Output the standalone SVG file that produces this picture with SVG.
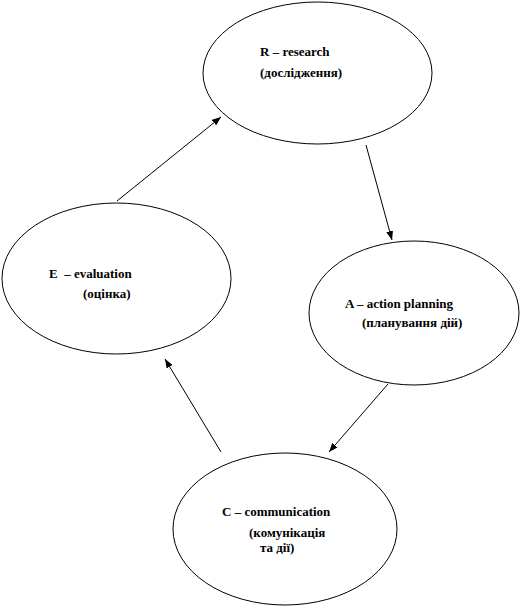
<svg xmlns="http://www.w3.org/2000/svg" width="520" height="616" viewBox="0 0 520 616">
<style>
.n{fill:#fff;stroke:#000;stroke-width:1}
.t{font-family:"Liberation Serif","Times New Roman",serif;font-weight:bold;font-size:13px;fill:#000}
.c{stroke:#000;stroke-width:1;fill:none;marker-end:url(#ah)}
</style>
<defs>
<marker id="ah" markerWidth="9" markerHeight="7" refX="9" refY="3.5" orient="auto" markerUnits="userSpaceOnUse">
<path d="M0,0 L9,3.5 L0,7 Z" fill="#000"/>
</marker>
</defs>
<rect width="520" height="616" fill="#fff"/>
<g id="connectors">
<line class="c" x1="117" y1="201" x2="221" y2="117"/>
<line class="c" x1="366" y1="145" x2="392" y2="240"/>
<line class="c" x1="388" y1="384" x2="329" y2="452"/>
<line class="c" x1="221" y1="452" x2="165" y2="359"/>
</g>
<g id="nodeR">
<ellipse class="n" cx="317.5" cy="73" rx="114.5" ry="71"/>
<text class="t" x="260" y="56">R – research</text>
<text class="t" x="260" y="77">(дослідження)</text>
</g>
<g id="nodeE">
<ellipse class="n" cx="116.5" cy="278.5" rx="114.5" ry="75.5"/>
<text class="t" x="49" y="278">E&#160; – evaluation</text>
<text class="t" x="83" y="298">(оцінка)</text>
</g>
<g id="nodeA">
<ellipse class="n" cx="414" cy="313" rx="105" ry="72"/>
<text class="t" x="345" y="308">A – action planning</text>
<text class="t" x="362" y="327">(планування дій)</text>
</g>
<g id="nodeC">
<ellipse class="n" cx="285" cy="529" rx="112" ry="76"/>
<text class="t" x="222" y="516">C – communication</text>
<text class="t" x="249" y="537">(комунікація</text>
<text class="t" x="260" y="552">та дії)</text>
</g>
</svg>
